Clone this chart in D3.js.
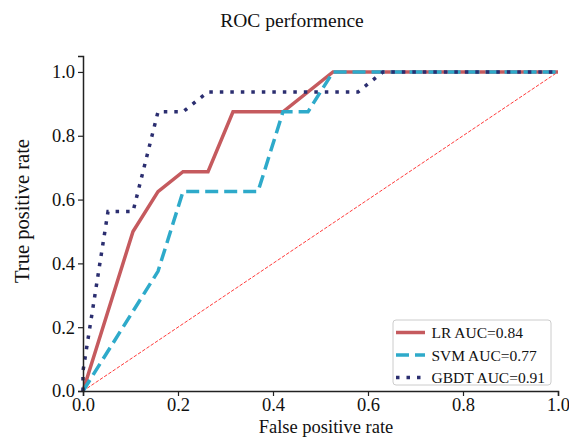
<!DOCTYPE html>
<html>
<head>
<meta charset="utf-8">
<script src="https://cdn.jsdelivr.net/npm/d3@7"></script>
<style>
  body { margin: 0; background: #fff; }
  svg { display: block; font-family: "Liberation Serif", "DejaVu Serif", serif; }
</style>
</head>
<body>
<div id="chart"></div>
<script>
// ROC points, fpr steps of 1/19, tpr steps of 1/16
const lrFpr = [0, 2/19, 3/19, 4/19, 5/19, 6/19, 8/19, 10/19, 1];
const lrTpr = [0, 8/16, 10/16, 11/16, 11/16, 14/16, 14/16, 1, 1];

const svmFpr = [0, 3/19, 4/19, 7/19, 8/19, 9/19, 10/19, 1];
const svmTpr = [0, 6/16, 10/16, 10/16, 14/16, 14/16, 1, 1];

const gbdtFpr = [0, 0, 1/19, 2/19, 3/19, 4/19, 5/19, 11/19, 12/19, 1];
const gbdtTpr = [0, 1/16, 9/16, 9/16, 14/16, 14/16, 15/16, 15/16, 1, 1];

const seriesNames = ["LR AUC=0.84", "SVM AUC=0.77", "GBDT AUC=0.91"];
const xTicks = [0, 0.2, 0.4, 0.6, 0.8, 1.0];
const yTicks = [0, 0.2, 0.4, 0.6, 0.8, 1.0];

const width = 569;
const height = 439;
const margin = { top: 56, right: 11, bottom: 48, left: 83 };

const svg = d3.select("#chart")
  .append("svg")
  .attr("width", width)
  .attr("height", height);

const x = d3.scaleLinear().domain([0, 1]).range([margin.left, width - margin.right]);
const y = d3.scaleLinear().domain([0, 1.05]).range([height - margin.bottom, margin.top]);

const styles = [
  { color: "#c55a5e", dash: null },
  { color: "#2eaaca", dash: "13,6" },
  { color: "#2b2e70", dash: "3.5,7" },
];

const series = [
  d3.zip(lrFpr, lrTpr),
  d3.zip(svmFpr, svmTpr),
  d3.zip(gbdtFpr, gbdtTpr),
];

// chance diagonal
svg.append("line")
  .attr("x1", x(0)).attr("y1", y(0))
  .attr("x2", x(1)).attr("y2", y(1))
  .attr("stroke", "#ff3b3b")
  .attr("stroke-width", 1)
  .attr("stroke-dasharray", "3.5,1.6");

const line = d3.line().x((d) => x(d[0])).y((d) => y(d[1]));

series.forEach((pts, i) => {
  svg.append("path")
    .datum(pts)
    .attr("d", line)
    .attr("fill", "none")
    .attr("stroke", styles[i].color)
    .attr("stroke-width", 3.5)
    .attr("stroke-dasharray", styles[i].dash);
});

// axes
const xAxis = svg.append("g")
  .attr("transform", `translate(0,${y(0)})`)
  .call(d3.axisBottom(x).tickValues(xTicks).tickFormat(d3.format(".1f")).tickSizeOuter(0).tickSize(5).tickPadding(2));

const yAxis = svg.append("g")
  .attr("transform", `translate(${x(0)},0)`)
  .call(d3.axisLeft(y).tickValues(yTicks).tickFormat(d3.format(".1f")).tickSizeOuter(0).tickSize(5).tickPadding(3));

[xAxis, yAxis].forEach((g) => {
  g.select(".domain").attr("stroke", "#222").attr("stroke-width", 1.5);
  g.selectAll(".tick line").attr("stroke", "#222").attr("stroke-width", 1.2);
  g.selectAll(".tick text")
    .attr("fill", "#111")
    .attr("font-size", 18.5)
    .attr("font-family", "Liberation Serif");
});

// title and labels
svg.append("text")
  .attr("x", 292).attr("y", 27)
  .attr("text-anchor", "middle")
  .attr("font-size", 19.5)
  .attr("fill", "#111")
  .text("ROC performence");

svg.append("text")
  .attr("x", 326).attr("y", 433)
  .attr("text-anchor", "middle")
  .attr("font-size", 18.5)
  .attr("fill", "#111")
  .text("False positive rate");

svg.append("text")
  .attr("transform", "translate(29,211)rotate(-90)")
  .attr("text-anchor", "middle")
  .attr("font-size", 20.5)
  .attr("fill", "#111")
  .text("True positive rate");

// legend
const legend = svg.append("g").attr("transform", "translate(393,320)");
legend.append("rect")
  .attr("width", 158).attr("height", 65)
  .attr("rx", 3)
  .attr("fill", "#fff")
  .attr("stroke", "#ccc")
  .attr("stroke-width", 1);

seriesNames.forEach((name, i) => {
  const row = legend.append("g").attr("transform", `translate(0,${12.5 + i * 22.5})`);
  row.append("line")
    .attr("x1", 3).attr("x2", 32)
    .attr("stroke", styles[i].color)
    .attr("stroke-width", 3.5)
    .attr("stroke-dasharray", styles[i].dash);
  row.append("text")
    .attr("x", 38.5).attr("y", 5.5)
    .attr("font-size", 15.5)
    .attr("fill", "#111")
    .text(name);
});
</script>
</body>
</html>
